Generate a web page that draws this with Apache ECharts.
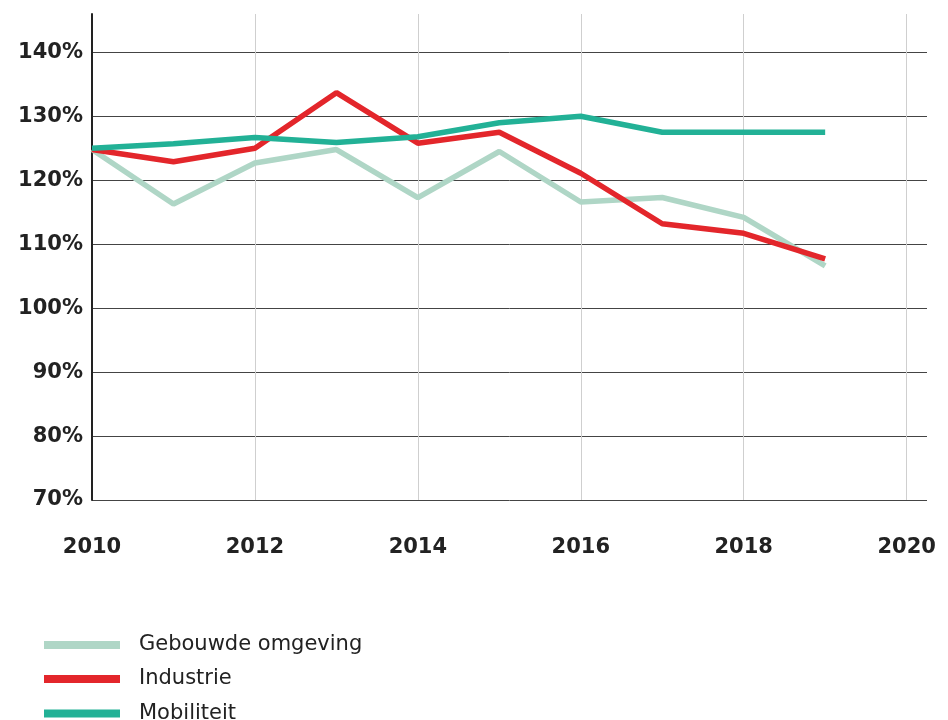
<!DOCTYPE html>
<html>
<head>
<meta charset="utf-8">
<script src="https://cdn.jsdelivr.net/npm/echarts@6/dist/echarts.min.js"></script>
<style>html,body{margin:0;padding:0;background:#fff;}#c{width:948px;height:720px;}</style>
</head>
<body>
<div id="c"></div>
<script>
const years = [2010, 2011, 2012, 2013, 2014, 2015, 2016, 2017, 2018, 2019];
const seriesNames = ['Gebouwde omgeving', 'Industrie', 'Mobiliteit'];
const gebouwde = [124.8, 116.3, 122.7, 124.8, 117.3, 124.5, 116.6, 117.3, 114.2, 106.6];
const industrie = [124.8, 122.9, 125.0, 133.7, 125.8, 127.5, 121.1, 113.2, 111.7, 107.7];
const mobiliteit = [125.0, 125.7, 126.7, 125.9, 126.8, 129.0, 130.0, 127.5, 127.5, 127.5];
const colors = ['#afd6c6', '#e3262b', '#22b196'];

const pair = arr => years.map((y, i) => [y, arr[i]]);

const legendTops = [634.5, 668.5, 703];
const legends = seriesNames.map((name, i) => ({
  orient: 'vertical',
  left: 44, top: legendTops[i],
  padding: 0,
  itemWidth: 76, itemHeight: 8,
  icon: 'rect',
  data: [name],
  textStyle: {fontFamily: 'DejaVu Sans', fontSize: 21, color: '#222', lineHeight: 21, padding: [0, 0, 0, 14]}
}));

const chart = echarts.init(document.getElementById('c'), null, {renderer: 'canvas'});
chart.setOption({
  animation: false,
  color: colors,
  grid: {left: 92, right: 21, top: 14, bottom: 220, containLabel: false},
  xAxis: {
    type: 'value',
    min: 2010, max: 2020.25, interval: 2,
    axisLine: {show: false},
    axisTick: {show: false},
    axisLabel: {
      showMaxLabel: false,
      margin: 37,
      color: '#222',
      fontFamily: 'DejaVu Sans',
      fontWeight: 'bold',
      fontSize: 21,
      formatter: v => (Number.isInteger(v) ? String(v) : '')
    },
    splitLine: {show: true, showMinLine: false, showMaxLine: false, lineStyle: {color: '#cfcfcf', width: 1}}
  },
  yAxis: {
    type: 'value',
    min: 70, max: 146, interval: 10,
    axisLine: {show: true, lineStyle: {color: '#222', width: 2}},
    axisTick: {show: false},
    axisLabel: {
      showMaxLabel: false,
      margin: 9,
      color: '#222',
      fontFamily: 'DejaVu Sans',
      fontWeight: 'bold',
      fontSize: 21,
      formatter: v => v + '%'
    },
    splitLine: {show: true, showMaxLine: false, lineStyle: {color: '#444', width: 1}}
  },
  legend: legends,
  series: [
    {name: seriesNames[0], type: 'line', data: pair(gebouwde), symbol: 'none', lineStyle: {width: 5.5, color: colors[0]}},
    {name: seriesNames[1], type: 'line', data: pair(industrie), symbol: 'none', lineStyle: {width: 5.5, color: colors[1]}},
    {name: seriesNames[2], type: 'line', data: pair(mobiliteit), symbol: 'none', lineStyle: {width: 5.5, color: colors[2]}}
  ]
});
</script>
</body>
</html>
